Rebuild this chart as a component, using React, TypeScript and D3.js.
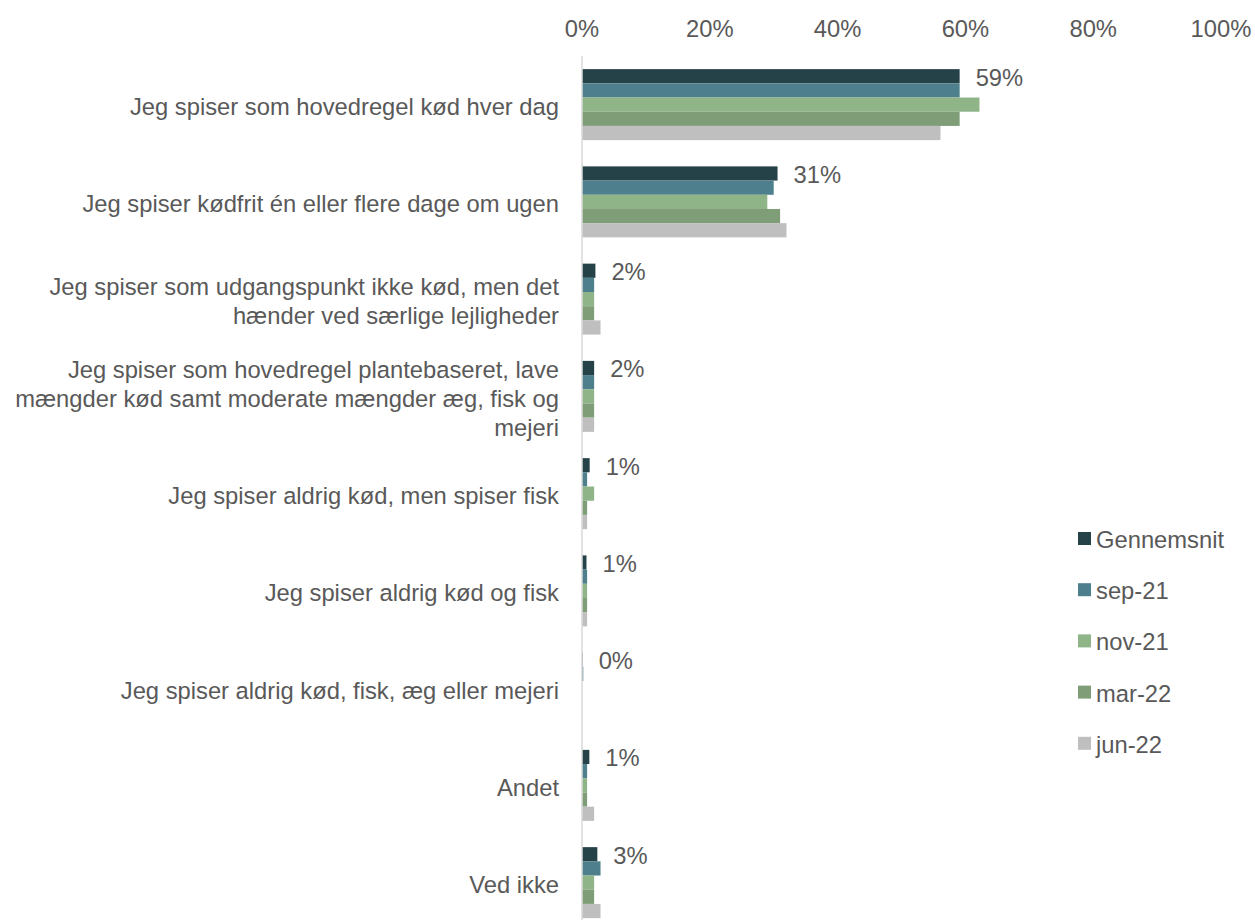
import React from "react";
import * as d3 from "d3";

const categories: string[] = [
  "Jeg spiser som hovedregel kød hver dag",
  "Jeg spiser kødfrit én eller flere dage om ugen",
  "Jeg spiser som udgangspunkt ikke kød, men det\nhænder ved særlige lejligheder",
  "Jeg spiser som hovedregel plantebaseret, lave\nmængder kød samt moderate mængder æg, fisk og\nmejeri",
  "Jeg spiser aldrig kød, men spiser fisk",
  "Jeg spiser aldrig kød og fisk",
  "Jeg spiser aldrig kød, fisk, æg eller mejeri",
  "Andet",
  "Ved ikke",
];

const seriesNames: string[] = ["Gennemsnit", "sep-21", "nov-21", "mar-22", "jun-22"];
const seriesColors: string[] = ["#264249", "#4e7f8c", "#8fb488", "#7f9e78", "#bfbfbf"];

const gennemsnit: number[] = [59.1, 30.6, 2.1, 1.9, 1.2, 0.7, 0.1, 1.15, 2.4];
const sep21: number[] = [59.1, 30.0, 1.9, 1.9, 0.8, 0.8, 0.2, 0.8, 2.9];
const nov21: number[] = [62.2, 29.0, 1.9, 1.9, 1.9, 0.8, 0, 0.8, 1.9];
const mar22: number[] = [59.1, 31.0, 1.9, 1.9, 0.8, 0.8, 0, 0.8, 1.9];
const jun22: number[] = [56.1, 32.0, 2.9, 1.9, 0.8, 0.8, 0, 1.9, 2.9];
const dataLabels: string[] = ["59%", "31%", "2%", "2%", "1%", "1%", "0%", "1%", "3%"];

const tickValues: number[] = [0, 20, 40, 60, 80, 100];

const seriesValues = [gennemsnit, sep21, nov21, mar22, jun22];

export default function App() {
  const W = 1255;
  const H = 920;
  const FONT = "Arial, 'Liberation Sans', sans-serif";
  const FS = 23.75;
  const textColor = "#595959";

  const x = d3.scaleLinear().domain([0, 100]).range([582, 1221]);
  const plotTop = 56;
  const step = 97.25;
  const y = d3
    .scaleBand<string>()
    .domain(categories)
    .range([plotTop, plotTop + step * categories.length])
    .paddingInner(0.27)
    .paddingOuter(0.135);
  const inner = d3
    .scaleBand<string>()
    .domain(seriesNames)
    .range([0, y.bandwidth()]);

  const lineH = 29;

  return (
    <svg
      width={W}
      height={H}
      style={{ position: "absolute", left: 0, top: 0, display: "block", background: "#fff" }}
      fontFamily={FONT}
    >
      <rect x={0} y={0} width={W} height={H} fill="#fff" />
      {/* x tick labels */}
      {tickValues.map((t) => (
        <text
          key={t}
          x={x(t)}
          y={28}
          textAnchor="middle"
          dominantBaseline="central"
          fontSize={FS}
          fill={textColor}
        >
          {t}%
        </text>
      ))}
      {/* bars */}
      {categories.map((c, ci) => (
        <g key={c}>
          {seriesNames.map((s, si) => {
            const v = seriesValues[si][ci];
            return (
              <rect
                key={s}
                x={x(0)}
                y={(y(c) as number) + (inner(s) as number)}
                width={Math.max(0, x(v) - x(0))}
                height={inner.bandwidth()}
                fill={seriesColors[si]}
              />
            );
          })}
          <text
            x={x(gennemsnit[ci]) + 16}
            y={(y(c) as number) + (inner("Gennemsnit") as number) + inner.bandwidth() / 2 + 1}
            dominantBaseline="central"
            fontSize={FS}
            fill={textColor}
          >
            {dataLabels[ci]}
          </text>
        </g>
      ))}
      {/* axis line */}
      <line x1={x(0)} x2={x(0)} y1={plotTop} y2={H} stroke="#d9d9d9" strokeWidth={1.5} />
      {/* category labels */}
      {categories.map((c) => {
        const lines = c.split("\n");
        const cy = (y(c) as number) + y.bandwidth() / 2 + 2;
        const startY = cy - ((lines.length - 1) * lineH) / 2;
        return (
          <text key={c} textAnchor="end" fontSize={FS} fill={textColor}>
            {lines.map((ln, li) => (
              <tspan key={li} x={559} y={startY + li * lineH} dominantBaseline="central">
                {ln}
              </tspan>
            ))}
          </text>
        );
      })}
      {/* legend */}
      {seriesNames.map((s, si) => {
        const ly = 538.5 + si * 51.2;
        return (
          <g key={s}>
            <rect x={1078} y={ly - 6.5} width={13} height={13} fill={seriesColors[si]} />
            <text x={1096} y={ly + 1} dominantBaseline="central" fontSize={FS} fill={textColor}>
              {s}
            </text>
          </g>
        );
      })}
    </svg>
  );
}
